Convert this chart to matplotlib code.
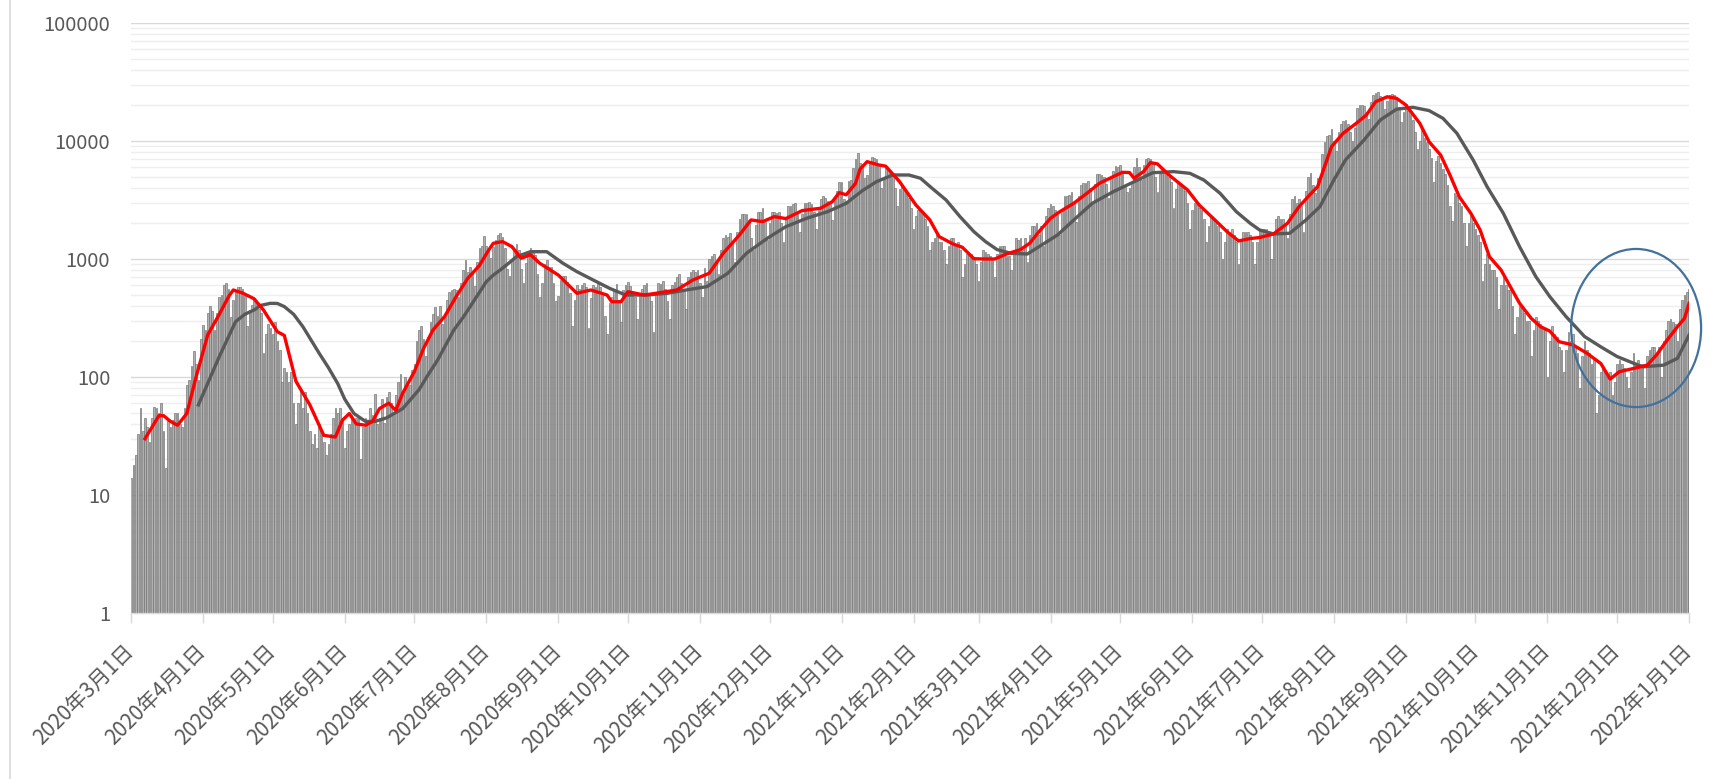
import matplotlib

matplotlib.use("Agg")
import matplotlib.pyplot as plt
import matplotlib.patches as mpatches
import matplotlib.ticker as mticker
import numpy as np
import pandas as pd

plt.rcParams["font.family"] = ["Noto Sans CJK JP", "DejaVu Sans"]

# 日次新規感染者数 (2020-03-01 から 1 日ずつ, 1 行 = 日〜土の 1 週間)
start_date = "2020-03-01"
daily_cases = [
    14, 18, 22, 33, 55, 35, 45,
    38, 28, 45, 56, 55, 50, 60,
    35, 17, 42, 38, 43, 50, 50,
    40, 38, 55, 85, 95, 125, 165,
    130, 95, 210, 275, 250, 350, 400,
    360, 250, 350, 480, 500, 600, 620,
    560, 320, 450, 550, 580, 580, 560,
    490, 270, 370, 410, 450, 440, 380,
    350, 160, 230, 280, 260, 230, 290,
    200, 170, 90, 120, 110, 90, 110,
    60, 40, 60, 80, 55, 75, 50,
    35, 27, 33, 25, 40, 33, 28,
    22, 27, 33, 45, 55, 50, 55,
    45, 25, 35, 40, 48, 42, 45,
    47, 20, 38, 45, 40, 55, 48,
    72, 40, 45, 65, 41, 68, 75,
    60, 48, 70, 90, 105, 70, 100,
    90, 85, 115, 130, 200, 250, 270,
    210, 150, 220, 290, 340, 390, 330,
    400, 280, 320, 450, 520, 550, 560,
    550, 480, 630, 800, 980, 770, 850,
    780, 590, 940, 1250, 1300, 1580, 1300,
    1230, 1020, 1260, 1460, 1600, 1650, 1550,
    1250, 830, 720, 1000, 1170, 1350, 1200,
    820, 620, 920, 1150, 1250, 1150, 1080,
    740, 480, 630, 900, 980, 850, 850,
    620, 440, 490, 660, 720, 720, 640,
    510, 270, 450, 600, 560, 600, 620,
    580, 260, 470, 600, 580, 610, 580,
    500, 330, 230, 420, 480, 560, 610,
    450, 290, 550, 600, 640, 590, 540,
    480, 310, 500, 560, 600, 620, 510,
    440, 240, 530, 620, 610, 650, 560,
    440, 310, 600, 640, 700, 740, 620,
    540, 380, 700, 780, 800, 780, 800,
    620, 480, 840, 650, 1000, 1050, 1100,
    920, 740, 1200, 1500, 1600, 1550, 1650,
    1430, 950, 1700, 2200, 2400, 2400, 2400,
    2150, 1500, 1200, 1950, 2500, 2500, 2680,
    2050, 1440, 2010, 2500, 2510, 2430, 2500,
    2030, 1400, 2130, 2800, 2800, 2900, 3000,
    2400, 1700, 2400, 3000, 3000, 3050, 2900,
    2500, 1800, 2600, 3200, 3400, 3300, 3100,
    2950, 2150, 3150, 3800, 4500, 4500, 3200,
    3100, 4600, 4700, 5900, 7100, 7900, 6500,
    6100, 4900, 5100, 6700, 7300, 7200, 7100,
    6200, 4000, 5000, 6000, 5800, 5600, 5200,
    4000, 2800, 3900, 4200, 4000, 3700, 3300,
    2700, 1800, 2300, 2600, 2600, 2400, 2200,
    1900, 1200, 1400, 1500, 1600, 1400, 1400,
    1200, 900, 1300, 1500, 1500, 1300, 1400,
    1200, 700, 900, 1100, 1100, 1100, 1000,
    900, 650, 950, 1200, 1150, 1100, 1050,
    1000, 700, 1100, 1300, 1300, 1300, 1050,
    1050, 800, 1200, 1500, 1450, 1500, 1200,
    1500, 950, 1600, 1900, 1900, 2000, 1600,
    1900, 1300, 2300, 2700, 2900, 2800, 2600,
    2400, 1600, 2600, 3400, 3400, 3500, 3700,
    2900, 2050, 3400, 4200, 4400, 4400, 4600,
    4000, 2900, 4300, 5300, 5300, 5100, 5000,
    4300, 3300, 5000, 5600, 6100, 6000, 6200,
    5500, 4100, 3700, 4000, 4500, 6000, 7200,
    6000, 4700, 6200, 7100, 7200, 7000, 6600,
    5000, 3700, 5300, 5700, 5700, 5400, 5000,
    4500, 2700, 3900, 4400, 4200, 4100, 3800,
    3000, 1800, 2600, 3000, 3000, 2700, 2600,
    2200, 1400, 1900, 2300, 2200, 2000, 1900,
    1700, 1000, 1400, 1800, 1700, 1800, 1600,
    1400, 900, 1400, 1700, 1700, 1700, 1600,
    1400, 900, 1400, 1800, 1800, 1800, 1800,
    1700, 1000, 1700, 2200, 2300, 2200, 2200,
    2000, 1500, 2400, 3200, 3400, 3000, 3200,
    2800, 1700, 3800, 5000, 5400, 4200, 3600,
    4900, 4900, 7800, 9800, 11000, 11200, 12700,
    10000, 8200, 11900, 14000, 14900, 15200, 14000,
    12000, 10000, 13000, 18900, 20300, 20100, 19800,
    17500, 15500, 21500, 24500, 25300, 25900, 24000,
    22500, 18500, 22000, 24500, 25000, 24400, 23000,
    19500, 14500, 17500, 20500, 17800, 16800, 15000,
    12000, 8500, 10000, 12400, 10500, 9800, 8500,
    7200, 4500, 6800, 7500, 6500, 5800, 5300,
    4200, 2800, 2100, 3600, 3500, 3000, 2800,
    2000, 1300, 2000, 2300, 2000, 1800, 1600,
    1400, 650, 900, 1100, 900, 800, 800,
    700, 380, 600, 700, 600, 550, 550,
    400, 230, 320, 400, 400, 350, 300,
    300, 150, 250, 320, 300, 280, 260,
    250, 100, 200, 270, 230, 220, 180,
    170, 110, 170, 240, 200, 230, 180,
    160, 80, 150, 200, 170, 160, 130,
    140, 50, 70, 110, 120, 110, 100,
    110, 70, 90, 130, 140, 130, 120,
    100, 80, 110, 160, 130, 140, 130,
    130, 80, 150, 170, 180, 180, 160,
    180, 100, 200, 250, 300, 310, 290,
    280, 200, 380, 450, 500, 520, 560,
]

# 赤線 (7日平均) の読み取り値
red_dates = [
    "2020-03-07", "2020-03-13", "2020-03-15", "2020-03-18", "2020-03-21", "2020-03-25",
    "2020-03-29", "2020-04-03", "2020-04-08", "2020-04-12", "2020-04-14", "2020-04-18",
    "2020-04-23", "2020-04-27", "2020-05-03", "2020-05-06", "2020-05-11", "2020-05-17",
    "2020-05-23", "2020-05-28", "2020-05-31", "2020-06-03", "2020-06-06", "2020-06-10",
    "2020-06-13", "2020-06-16", "2020-06-20", "2020-06-23", "2020-06-26", "2020-07-01",
    "2020-07-05", "2020-07-09", "2020-07-14", "2020-07-19", "2020-07-24", "2020-07-29",
    "2020-08-02", "2020-08-04", "2020-08-08", "2020-08-12", "2020-08-16", "2020-08-20",
    "2020-08-24", "2020-09-01", "2020-09-09", "2020-09-15", "2020-09-22", "2020-09-24",
    "2020-09-28", "2020-10-01", "2020-10-08", "2020-10-13", "2020-10-22", "2020-10-29",
    "2020-11-05", "2020-11-11", "2020-11-18", "2020-11-23", "2020-11-28", "2020-12-03",
    "2020-12-08", "2020-12-15", "2020-12-23", "2020-12-28", "2020-12-31", "2021-01-03",
    "2021-01-07", "2021-01-09", "2021-01-12", "2021-01-17", "2021-01-20", "2021-01-26",
    "2021-02-02", "2021-02-08", "2021-02-12", "2021-02-18", "2021-02-22", "2021-02-27",
    "2021-03-03", "2021-03-08", "2021-03-13", "2021-03-19", "2021-03-23", "2021-03-27",
    "2021-04-01", "2021-04-05", "2021-04-11", "2021-04-17", "2021-04-22", "2021-04-28",
    "2021-05-02", "2021-05-05", "2021-05-07", "2021-05-11", "2021-05-14", "2021-05-17",
    "2021-05-22", "2021-05-30", "2021-06-04", "2021-06-10", "2021-06-16", "2021-06-21",
    "2021-06-26", "2021-06-30", "2021-07-06", "2021-07-12", "2021-07-17", "2021-07-22",
    "2021-07-25", "2021-07-28", "2021-07-31", "2021-08-05", "2021-08-11", "2021-08-15",
    "2021-08-19", "2021-08-24", "2021-08-28", "2021-09-01", "2021-09-07", "2021-09-11",
    "2021-09-16", "2021-09-20", "2021-09-24", "2021-09-29", "2021-10-03", "2021-10-07",
    "2021-10-12", "2021-10-16", "2021-10-20", "2021-10-25", "2021-10-29", "2021-11-02",
    "2021-11-06", "2021-11-12", "2021-11-18", "2021-11-24", "2021-11-28", "2021-12-02",
    "2021-12-08", "2021-12-14", "2021-12-18", "2021-12-22", "2021-12-27", "2021-12-30",
    "2022-01-01",
]
red_values = [
    30, 47, 47, 42, 39, 49,
    100, 227, 340, 480, 546, 515,
    460, 370, 242, 225, 92, 58,
    32, 31, 43, 49, 40, 39,
    42, 54, 60, 52, 73, 111,
    175, 250, 325, 480, 686, 880,
    1190, 1358, 1403, 1273, 1014, 1088,
    920, 731, 512, 546, 495, 434,
    434, 528, 495, 512, 546, 664,
    757, 1117, 1597, 2142, 2072, 2285,
    2200, 2570, 2693, 3061, 3648, 3500,
    4375, 5800, 6680, 6266, 6120, 4517,
    2868, 2142, 1547, 1340, 1256, 1006,
    1000, 1000, 1102, 1200, 1358, 1703,
    2215, 2518, 2966, 3648, 4375, 4990,
    5430, 5400, 4830, 5500, 6550, 6400,
    5150, 3846, 2868, 2215, 1703, 1422,
    1490, 1520, 1630, 2005, 2775, 3556,
    4100, 6053, 8950, 11620, 14290, 16600,
    21500, 23700, 23000, 20200, 14130, 9860,
    7600, 5150, 3373, 2438, 1762, 1047,
    807, 583, 421, 314, 267, 245,
    199, 187, 159, 130, 96, 111,
    118, 126, 154, 199, 267, 314,
    421,
]

# 灰色線 (長期平均) の読み取り値
gray_dates = [
    "2020-03-30", "2020-04-08", "2020-04-15", "2020-04-19", "2020-04-23", "2020-04-26",
    "2020-04-30", "2020-05-03", "2020-05-06", "2020-05-10", "2020-05-14", "2020-05-21",
    "2020-05-25", "2020-05-29", "2020-06-01", "2020-06-05", "2020-06-10", "2020-06-14",
    "2020-06-19", "2020-06-26", "2020-07-03", "2020-07-07", "2020-07-11", "2020-07-18",
    "2020-07-22", "2020-07-25", "2020-08-01", "2020-08-04", "2020-08-07", "2020-08-10",
    "2020-08-14", "2020-08-20", "2020-08-27", "2020-09-03", "2020-09-09", "2020-09-16",
    "2020-09-23", "2020-09-30", "2020-10-09", "2020-10-18", "2020-10-26", "2020-11-04",
    "2020-11-13", "2020-11-21", "2020-11-30", "2020-12-08", "2020-12-17", "2020-12-26",
    "2021-01-03", "2021-01-10", "2021-01-16", "2021-01-23", "2021-01-30", "2021-02-04",
    "2021-02-09", "2021-02-15", "2021-02-21", "2021-02-27", "2021-03-04", "2021-03-09",
    "2021-03-15", "2021-03-22", "2021-03-27", "2021-04-04", "2021-04-11", "2021-04-19",
    "2021-04-28", "2021-05-07", "2021-05-15", "2021-05-24", "2021-05-31", "2021-06-06",
    "2021-06-13", "2021-06-20", "2021-06-26", "2021-06-30", "2021-07-06", "2021-07-13",
    "2021-07-20", "2021-07-26", "2021-08-01", "2021-08-06", "2021-08-14", "2021-08-21",
    "2021-08-28", "2021-09-04", "2021-09-11", "2021-09-17", "2021-09-23", "2021-09-30",
    "2021-10-06", "2021-10-13", "2021-10-20", "2021-10-27", "2021-11-02", "2021-11-09",
    "2021-11-17", "2021-11-24", "2021-12-01", "2021-12-08", "2021-12-12", "2021-12-21",
    "2021-12-27", "2022-01-01",
]
gray_values = [
    58, 149, 294, 340, 370, 405,
    421, 420, 395, 340, 267, 159,
    120, 88, 65, 49, 42, 42,
    45, 54, 78, 105, 139, 250,
    320, 394, 642, 730, 807, 900,
    1047, 1153, 1153, 920, 781, 664,
    565, 495, 495, 512, 546, 583,
    757, 1117, 1497, 1879, 2215, 2518,
    2966, 3800, 4517, 5150, 5150, 4830,
    3970, 3162, 2285, 1703, 1403, 1200,
    1117, 1102, 1270, 1597, 2142, 2966,
    3717, 4517, 5383, 5500, 5320, 4670,
    3605, 2518, 2005, 1762, 1630, 1652,
    2142, 2775, 4670, 6900, 10190, 15060,
    18600, 19300, 18100, 15560, 11620, 6900,
    4100, 2438, 1270, 708, 480, 325,
    220, 180, 149, 131, 122, 126,
    144, 227,
]

y_ticks = [1, 10, 100, 1000, 10000, 100000]

days = pd.date_range(start_date, periods=len(daily_cases), freq="D")
month_ticks = pd.date_range("2020-03-01", "2022-01-01", freq="MS")

fig = plt.figure(figsize=(17.11, 7.79), dpi=100)
ax = fig.add_axes([0.0766, 0.2131, 0.9106, 0.7574])

ax.bar(days, daily_cases, width=0.72, bottom=0, color="#b0b0b0",
       edgecolor="#6f6f6f", linewidth=0.45, zorder=2)
ax.plot(pd.to_datetime(gray_dates), gray_values, color="#595959", lw=2.4,
        solid_joinstyle="round", zorder=3)
ax.plot(pd.to_datetime(red_dates), red_values, color="#ff0000", lw=2.4,
        solid_joinstyle="round", zorder=4)

ax.set_yscale("log")
ax.set_ylim(1, 100000)
ax.set_xlim(pd.Timestamp("2020-03-01"), pd.Timestamp("2022-01-01"))

ax.yaxis.set_major_locator(mticker.FixedLocator(y_ticks))
ax.yaxis.set_major_formatter(mticker.FuncFormatter(lambda v, _: f"{v:.0f}"))
ax.yaxis.set_minor_locator(mticker.LogLocator(base=10, subs=np.arange(2, 10)))
ax.yaxis.set_minor_formatter(mticker.NullFormatter())
ax.grid(True, which="major", axis="y", color="#d9d9d9", lw=1.0, zorder=0)
ax.grid(True, which="minor", axis="y", color="#eeeeee", lw=1.0, zorder=0)
ax.set_axisbelow(True)

ax.set_xticks(month_ticks)
ax.set_xticklabels([f"{d.year}年{d.month}月{d.day}日" for d in month_ticks],
                   rotation=45, ha="right", va="center", rotation_mode="anchor")
ax.tick_params(axis="x", which="major", length=7, width=1, color="#d9d9d9",
               labelsize=15, labelcolor="#595959", pad=18)
ax.tick_params(axis="y", which="both", length=0, labelsize=14.5,
               labelcolor="#595959", pad=15)

for side in ("top", "right", "left"):
    ax.spines[side].set_visible(False)
ax.spines["bottom"].set_color("#d9d9d9")
ax.spines["bottom"].set_linewidth(1.0)

# 注目部分を囲む楕円
ax.add_patch(mpatches.Ellipse((0.966, 0.483), 0.0834, 0.268, transform=ax.transAxes,
                              fill=False, edgecolor="#41719c", lw=1.6,
                              clip_on=False, zorder=5))

# グラフ領域の左端の枠線
fig.add_artist(plt.Line2D([10 / 1711, 10 / 1711], [0, 1], transform=fig.transFigure,
                          color="#d9d9d9", lw=1.2))

fig.savefig("out.png", dpi=100)
